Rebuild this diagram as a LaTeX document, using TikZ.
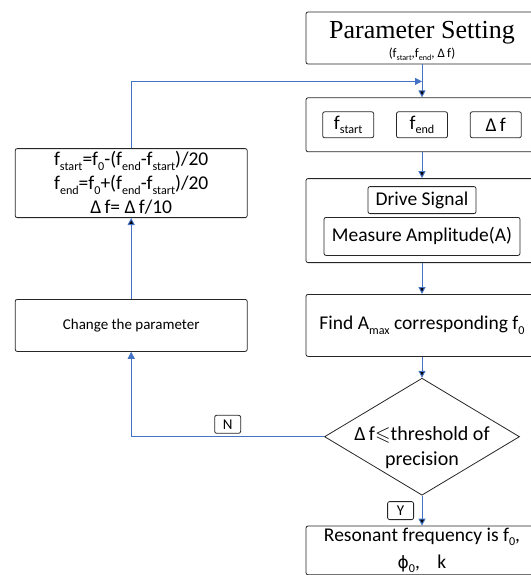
\documentclass[tikz,border=0pt]{standalone}
\usepackage{fontspec}
\usepackage{amssymb}
\setmainfont{Carlito}
\newfontfamily\titlefont{Liberation Serif}
\newfontfamily\phifont{DejaVu Sans}
\usetikzlibrary{shapes.geometric,arrows.meta}
\usetikzlibrary{positioning}

\definecolor{flowblue}{HTML}{4472C4}
\newcommand{\lowidx}[1]{\raisebox{-0.22em}{\scalebox{0.62}{#1}}}

\begin{document}
\begin{tikzpicture}[x=1pt, y=-1pt, >={Triangle[length=7pt,width=7pt]},
    box/.style={draw=black!85, line width=0.8pt, rounded corners=2pt, minimum width=232pt,
      inner sep=0pt, align=center, font=\fontsize{19.5}{24}\selectfont},
    inbox/.style={draw=black!85, line width=0.8pt, rounded corners=2pt, inner sep=0pt,
      font=\fontsize{19.5}{22}\selectfont},
    flag/.style={draw=black!85, line width=0.8pt, rounded corners=2pt, inner sep=0pt,
      minimum width=26pt, minimum height=18pt, font=\fontsize{15}{18}\selectfont},
    decision/.style={diamond, draw=black!85, line width=0.8pt, inner sep=0pt,
      minimum width=195pt, minimum height=117pt},
    flow/.style={draw=flowblue, line width=1pt}]
    \useasboundingbox (0,0) rectangle (530,575);

    % Main column
    \node[box, minimum height=52pt] (setting) at (422,38) {};
    \node[align=center, inner sep=0pt] (settingtext) at ([yshift=-3pt]setting.center)
      {{\titlefont\fontsize{26}{27}\selectfont Parameter Setting}\\[3pt]
       {\fontsize{13}{13}\selectfont (f\lowidx{start},f\lowidx{end}, Δ\,f)}};
    \node[box, minimum height=54pt] (params) [below=33pt of setting] {};
    \node[inbox, minimum width=51pt, minimum height=26pt] (fend) at (params) {f\lowidx{end}};
    \node[inbox, minimum width=51pt, minimum height=26pt] (fstart) [left=22pt of fend] {f\lowidx{start}};
    \node[inbox, minimum width=51pt, minimum height=26pt] (df) [right=22pt of fend] {Δ\,f};

    \node[box, minimum height=84pt] (acq) [below=26pt of params] {};
    \node[inbox, minimum width=108pt, minimum height=27pt] (drive) [below=8pt of acq.north] {Drive Signal};
    \node[inbox, minimum width=196pt, minimum height=38pt] (measure) [below=3pt of drive] {Measure Amplitude(A)};

    \node[box, minimum height=62pt] (find) [below=31pt of acq]
      {Find A\lowidx{max} corresponding f\lowidx{0}};
    \node[decision] (check) [below=21pt of find] {};
    \node[align=center, font=\fontsize{20}{25}\selectfont] (checktext) at ([yshift=-11pt]check.center)
      {Δ\,f$\leqslant$threshold of\\precision};
    \node[box, inner ysep=2pt, font=\fontsize{19.5}{27}\selectfont] (result) [below=30pt of check]
      {Resonant frequency is f\lowidx{0},\\{\phifont\fontsize{17}{27}\selectfont ϕ}\lowidx{0},\hspace{0.9em}k};

    % Feedback column
    \node[box, minimum height=52pt, font=\fontsize{15}{18}\selectfont] (change) [left=58pt of find] {Change the parameter};
    \node[box, minimum height=69pt] (formula) [above=81pt of change]
      {f\lowidx{start}=f\lowidx{0}-(f\lowidx{end}-f\lowidx{start})/20\\
       f\lowidx{end}=f\lowidx{0}+(f\lowidx{end}-f\lowidx{start})/20\\
       Δ\,f= Δ\,f/10};
    \coordinate (join) at ([yshift=-17pt]setting.south);

    \path[->, flow]
    (setting) edge (params)
    (params) edge (acq)
    (acq) edge (find)
    (find) edge (check)
    (check) edge node[flag, left=8pt] {Y} (result)
    (change) edge (formula);

    \draw[->, flow] (check.west) -- node[flag, above=3pt] {N} (check.west -| change.south) -- (change.south);
    \draw[->, flow] (formula.north) |- (join);
\end{tikzpicture}
\end{document}
